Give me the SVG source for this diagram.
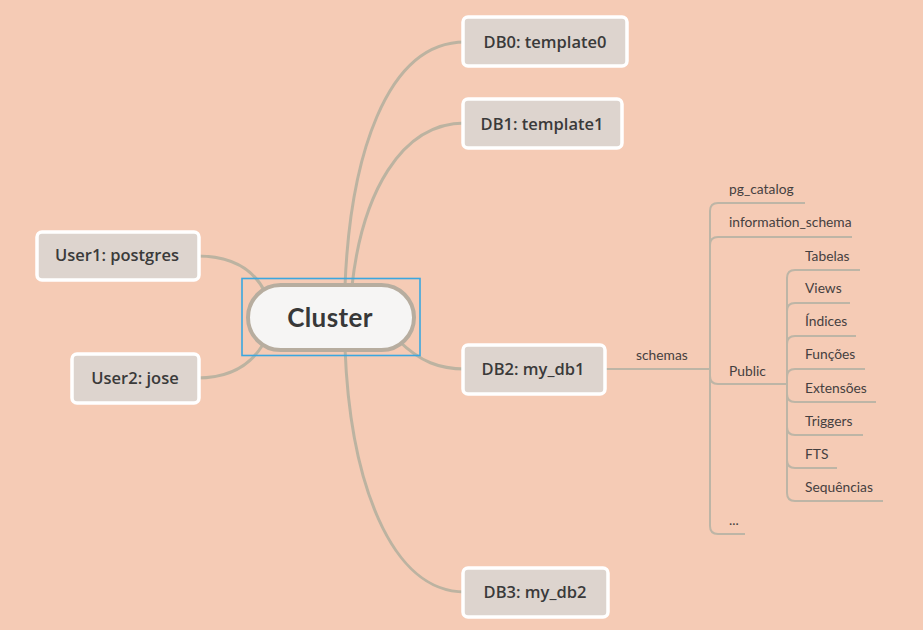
<svg xmlns="http://www.w3.org/2000/svg" width="923" height="630" viewBox="0 0 923 630">
<style>
.bg{fill:#F5CBB5}
.node rect{fill:#DDD4CE;stroke:#FFFFFF;stroke-width:3.5}
.node text{font-family:"Open Sans",Lato,"Liberation Sans",sans-serif;font-weight:600;font-size:16.5px;fill:#3A3A3A;text-anchor:middle;dominant-baseline:central}
.conn path{fill:none;stroke:#BCB3A1;stroke-width:3}
.tree path{fill:none;stroke:#BDB5A6;stroke-width:2}
.lbl{font-family:Lato,"Open Sans","Liberation Sans",sans-serif;font-size:13.8px;fill:#454040}
</style>
<rect class="bg" x="0" y="0" width="923" height="630"/>
<g id="connectors">
 <g class="conn">
  <path d="M345,286 C350,160 385,42 465,42"/>
  <path d="M352,286 C362,195 400,123 465,123"/>
  <path d="M398,340 C420,362 440,369 465,369"/>
  <path d="M345,348 C350,480 390,592 465,592"/>
  <path d="M197,256 C235,256 255,272 265,292"/>
  <path d="M197,378 C230,378 250,365 262,346"/>
 </g>
 <g class="tree">
  <path d="M605,369 L710,369"/>
  <path d="M805,203 L718,203 Q710,203 710,211 L710,526 Q710,534 718,534 L745,534"/>
  <path d="M852,237 L718,237 Q710,237 710,245"/>
  <path d="M710,376 Q710,384 718,384 L787,384"/>
  <path d="M860,270 L795,270 Q787,270 787,278 L787,493 Q787,501 795,501 L883,501"/>
  <path d="M850,303 L795,303 Q787,303 787,311"/>
  <path d="M856,336 L795,336 Q787,336 787,344"/>
  <path d="M865,369 L795,369 Q787,369 787,377"/>
  <path d="M787,394 Q787,402 795,402 L876,402"/>
  <path d="M787,427 Q787,435 795,435 L863,435"/>
  <path d="M787,460 Q787,468 795,468 L837,468"/>
 </g>
</g>
<g id="cluster">
 <rect x="242" y="278.5" width="178" height="77" fill="none" stroke="#3BA7DF" stroke-width="1.6"/>
 <rect x="248" y="285" width="166" height="65" rx="32.5" fill="#F6F5F4" stroke="#B7AD9F" stroke-width="4"/>
 <text x="330" y="317" font-family="Lato,'Open Sans','Liberation Sans',sans-serif" font-weight="700" font-size="26px" letter-spacing="0.4" fill="#383838" text-anchor="middle" dominant-baseline="central">Cluster</text>
</g>
<g id="db0" class="node"><rect x="463" y="17" width="164" height="49" rx="5"/><text x="545" y="41">DB0: template0</text></g>
<g id="db1" class="node"><rect x="463" y="99" width="159" height="49" rx="5"/><text x="542" y="123">DB1: template1</text></g>
<g id="user1" class="node"><rect x="37" y="232" width="162" height="48" rx="5"/><text x="117" y="254">User1: postgres</text></g>
<g id="user2" class="node"><rect x="72" y="354" width="127" height="49" rx="5"/><text x="135" y="377">User2: jose</text></g>
<g id="db2" class="node"><rect x="463" y="345" width="142" height="49" rx="5"/><text x="533" y="368">DB2: my_db1</text></g>
<g id="db3" class="node"><rect x="463" y="568" width="145" height="49" rx="5"/><text x="535" y="591">DB3: my_db2</text></g>
<g id="schemas"><text class="lbl" x="636" y="360">schemas</text></g>
<g id="pg_catalog"><text class="lbl" x="729" y="194">pg_catalog</text></g>
<g id="information_schema"><text class="lbl" x="729" y="227">information_schema</text></g>
<g id="public"><text class="lbl" x="729" y="376">Public</text></g>
<g id="etc"><text class="lbl" x="729" y="525">...</text></g>
<g id="tabelas"><text class="lbl" x="805" y="261">Tabelas</text></g>
<g id="views"><text class="lbl" x="805" y="293">Views</text></g>
<g id="indices"><text class="lbl" x="805" y="326">Índices</text></g>
<g id="funcoes"><text class="lbl" x="805" y="359">Funções</text></g>
<g id="extensoes"><text class="lbl" x="805" y="393">Extensões</text></g>
<g id="triggers"><text class="lbl" x="805" y="426">Triggers</text></g>
<g id="fts"><text class="lbl" x="805" y="459">FTS</text></g>
<g id="sequencias"><text class="lbl" x="805" y="492">Sequências</text></g>
</svg>
